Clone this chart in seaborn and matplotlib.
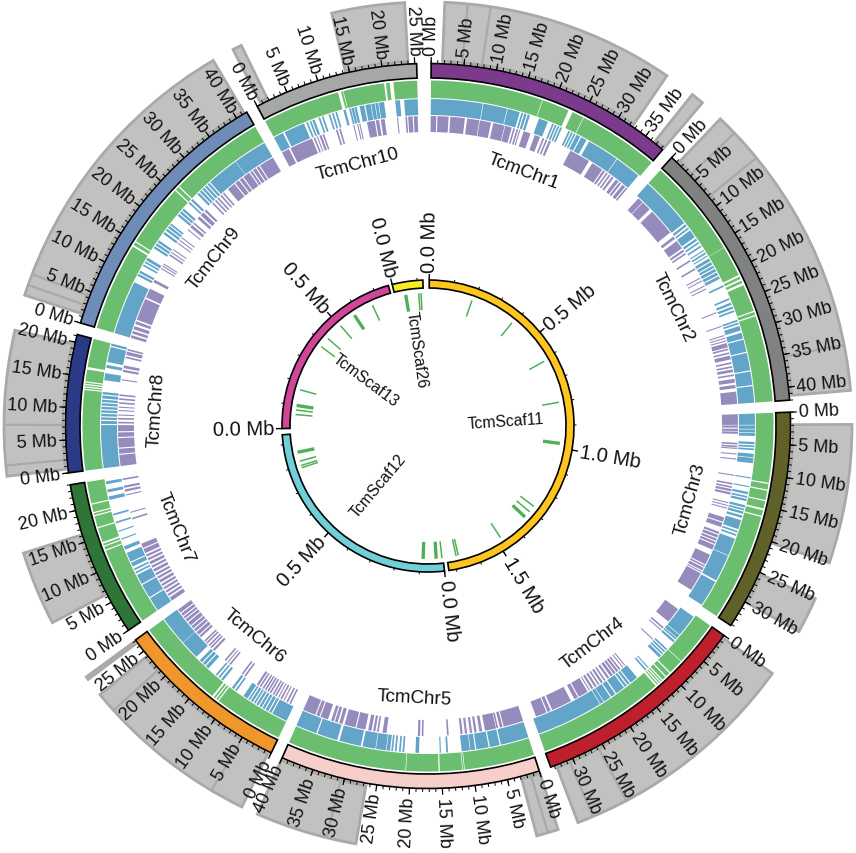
"""Circular genome map of the TcmChr chromosomes and scaffolds."""

import numpy as np
import pandas as pd
import matplotlib
matplotlib.use("Agg")
import matplotlib.pyplot as plt
import seaborn as sns

# chromosomes, lengths in Mb
chr_names = ["TcmChr1", "TcmChr2", "TcmChr3", "TcmChr4", "TcmChr5",
             "TcmChr6", "TcmChr7", "TcmChr8", "TcmChr9", "TcmChr10"]
chr_lengths = [38.3, 42.0, 34.2, 33.6, 40.0, 27.1, 24.0, 21.2, 41.8, 25.3]
chr_colors = ["#7b3a8c", "#808282", "#5f6129", "#bd1f2d", "#f6cfca",
              "#ef962c", "#2f7538", "#2b3a86", "#6f8cb9", "#a6a8a8"]

# scaffolds, lengths in Mb
scaf_names = ["TcmScaf11", "TcmScaf12", "TcmScaf13", "TcmScaf26"]
scaf_lengths = [1.73, 0.94, 0.76, 0.123]
scaf_colors = ["#fdc51e", "#6fd0d8", "#d0479a", "#f8ec25"]

# grey highlight ranges behind the tick labels (Mb)
chr1_grey = [(1.7, 32.5), (36.6, 38.3)]
chr2_grey = [(1.3, 41.3)]
chr3_grey = [(1.9, 20.2), (25.2, 30.0)]
chr4_grey = [(0.4, 32.7)]
chr5_grey = [(0.0, 2.9), (26.6, 40.0)]
chr6_grey = [(0.4, 24.1), (26.6, 27.0)]
chr7_grey = [(6.4, 16.2)]
chr8_grey = [(0.6, 19.7)]
chr9_grey = [(1.4, 41.4)]
chr10_grey = [(0.7, 1.9), (14.4, 24.0)]

# darker lines inside the grey ranges (Mb)
chr1_lines = [4.7, 7.7]
chr2_lines = [3.9, 8.2, 35.3]
chr3_lines = []
chr4_lines = [25.8, 30.6]
chr5_lines = [1.4, 30.5]
chr6_lines = [4.9, 21.4]
chr7_lines = []
chr8_lines = [2.0, 7.3]
chr9_lines = [2.8, 4.3]
chr10_lines = []

# green track
chr1_green = [(0, 18.1), (18.2, 22.6), (23.3, 25.2), (25.3, 38.3)]
chr2_green = [(0, 16), (16.05, 21), (21.3, 21.7), (22, 22.4), (22.8, 27.2), (27.4, 27.9), (28.1, 42)]
chr3_green = [(0, 11.2), (11.4, 12.3), (12.5, 14), (14.2, 15.4), (15.7, 16.6), (16.8, 34.2)]
chr4_green = [(0, 7.3), (7.4, 9.8), (10, 10.7), (10.9, 11.5), (11.7, 11.9), (12.1, 12.3), (12.5, 12.7), (13, 33.6)]
chr5_green = [(0, 11.3), (11.4, 11.6), (11.7, 15.3), (15.5, 20.7), (20.8, 40)]
chr6_green = [(0, 11.2), (11.4, 11.7), (11.9, 12.2), (12.5, 27.1)]
chr7_green = [(0, 12.6), (12.8, 13.3), (13.5, 13.8), (14.1, 16.4), (16.6, 18.4), (18.6, 18.9), (19.1, 20.3), (20.5, 24)]
chr8_green = [(0, 12.9), (13.1, 13.3), (13.5, 13.7), (13.9, 14.1), (14.3, 16.2), (16.6, 21.2)]
chr9_green = [(0, 14.2), (14.5, 15), (15.2, 25.4), (25.6, 26.2), (26.4, 41.8)]
chr10_green = [(0, 12.5), (13, 13.3), (13.4, 20), (20.3, 20.9), (21.5, 25.3)]

# blue track
chr1_blue = [(0, 8.8), (8.9, 13), (13.1, 15.2), (15.5, 15.8), (16, 16.4), (16.6, 17), (18.6, 20.2),
             (21, 21.3), (21.5, 21.8), (22, 22.3), (22.5, 22.8), (24, 24.3), (24.5, 24.8), (25, 25.3),
             (25.5, 26.2), (26.4, 27.4), (27.9, 33.4), (33.5, 38)]
chr2_blue = [(0, 9), (9.3, 9.7), (10, 10.3), (10.6, 12), (12.3, 12.7), (13, 13.3), (13.7, 14),
             (14.6, 14.8), (15.1, 15.4), (15.7, 15.9), (16.3, 16.8), (17, 17.5), (17.7, 18.1), (18.3, 18.8),
             (19, 19.5), (19.7, 20.2), (21.4, 21.7), (23.8, 24.1), (24.6, 25), (25.3, 25.7), (26, 26.3),
             (27.7, 28), (28.2, 28.5), (28.8, 29.6), (30, 31), (31.2, 33.3), (33.5, 36.5), (36.7, 39), (39.2, 42)]
chr3_blue = [(0, 1.9), (2, 2.6), (2.7, 3.2), (3.3, 3.8), (4.8, 5.2), (5.4, 5.7), (5.9, 6.2), (6.8, 7.4),
             (7.5, 8.4), (10.8, 11), (12.3, 12.5), (13.3, 13.7), (14, 14.3), (14.5, 14.9), (15.6, 16),
             (16.2, 16.5), (16.7, 17.1), (17.4, 17.8), (18.2, 19.8), (20.1, 20.4), (20.7, 21), (21.5, 24.5),
             (24.6, 29.2), (29.5, 34)]
chr4_blue = [(0.4, 4.2), (4.3, 4.9), (5, 5.3), (5.5, 5.9), (7.4, 7.7), (7.9, 8.2), (8.4, 8.7), (8.9, 9.4),
             (11.8, 12), (12.3, 12.6), (14.4, 15.8), (16, 16.4), (16.6, 17), (17.2, 18.8), (19, 19.8),
             (20, 21.3), (21.4, 22), (22.1, 33.6)]
chr5_blue = [(0, 4.8), (5, 6.7), (6.9, 9), (9.2, 10), (10.1, 11.5), (13.8, 14.1), (15, 15.2), (18.7, 19.3),
             (21.2, 21.5), (21.8, 22.1), (22.5, 22.8), (23.1, 23.4), (23.6, 24.2), (24.3, 26), (26.1, 28.3),
             (28.6, 32.3), (32.7, 36.2), (36.4, 40)]
chr6_blue = [(0, 2.7), (2.9, 3.3), (3.5, 4), (4.2, 4.6), (4.8, 5.2), (5.4, 5.8), (6, 6.3), (6.5, 6.9),
             (7.1, 7.4), (7.6, 8.4), (9.8, 10.1), (10.4, 10.8), (12.7, 13.1), (13.4, 13.7), (14, 14.3),
             (15.9, 16.5), (16.7, 17.2), (17.4, 17.9), (18.7, 22), (22.05, 27.1)]
chr7_blue = [(0, 2.4), (2.6, 5), (5.2, 6.9), (7.2, 7.5), (7.8, 8.1), (8.5, 9.2), (9.4, 11), (11.6, 12.2),
             (13.4, 13.6), (14.8, 15), (16.3, 16.6), (17.7, 18), (20.4, 21), (21.7, 22.2), (23.1, 23.6)]
chr8_blue = [(0, 7.3), (7.5, 8), (8.2, 8.6), (8.8, 9.2), (9.4, 9.8), (10, 10.4), (10.6, 11), (11.2, 11.6),
             (11.8, 12.3), (12.5, 12.9), (14.9, 16.1), (17, 17.5), (18, 20.6), (20.8, 21.2)]
chr9_blue = [(0, 9.2), (10.4, 10.8), (11, 11.4), (12.3, 12.6), (12.9, 13.2), (13.4, 13.9), (15.8, 16.2),
             (16.4, 16.8), (17, 17.4), (18.7, 19.1), (19.4, 19.8), (20, 20.4), (20.6, 20.9), (22.6, 23),
             (23.2, 23.6), (23.8, 24.2), (25.4, 25.7), (26, 26.4), (27.5, 27.9), (28.1, 28.5), (28.7, 29.1),
             (29.3, 29.7), (29.9, 30.3), (30.5, 36), (36.05, 41.8)]
chr10_blue = [(0, 1.7), (2, 5.6), (6, 6.3), (6.6, 6.9), (7.1, 7.5), (8.2, 8.5), (8.8, 9.1), (10, 10.3),
              (10.6, 10.9), (11.2, 11.5), (12.6, 13), (13.6, 13.9), (14, 14.4), (14.5, 14.9), (15.4, 16.2),
              (16.4, 17.3), (17.4, 18), (18.1, 18.6), (18.7, 19.6), (21.5, 22.3), (23, 25.3)]

# purple track
chr1_purple = [(0, 1), (1.2, 3.2), (3.5, 6.1), (6.5, 8.7), (8.8, 10.8), (11.2, 13.3), (13.4, 14.6),
               (14.9, 15.2), (15.5, 15.8), (16, 16.2), (16.8, 18.1), (18.9, 19.9), (20.4, 20.7), (21, 21.3),
               (21.6, 22), (25.8, 29.6), (30.3, 32.4), (32.6, 33), (33.3, 33.6), (33.9, 34.2), (34.5, 34.9),
               (35.4, 36), (36.2, 36.6), (36.9, 37.5), (37.7, 38)]
chr2_purple = [(0.5, 1.5), (1.6, 3.3), (3.9, 8.8), (9.7, 10.2), (10.7, 12.3), (12.6, 13), (13.3, 13.6),
               (14.8, 15.1), (16.5, 16.8), (18.4, 18.6), (19, 19.2), (20, 20.2), (20.6, 20.8), (25.2, 25.4),
               (27.8, 28), (29.5, 29.7), (30, 30.2), (30.5, 30.7), (31, 31.8), (32, 32.3), (32.7, 33),
               (33.3, 34), (34.5, 34.8), (35.2, 35.5), (35.8, 36.3), (36.7, 37), (37.5, 38.2), (38.6, 39.2),
               (39.8, 42)]
chr3_purple = [(0, 1.9), (2, 2.4), (2.6, 3), (3.1, 3.5), (5.1, 5.4), (5.6, 5.9), (6, 6.2), (7, 7.2), (7.9, 8.1),
               (10.8, 11), (12.3, 12.6), (12.9, 13.2), (13.4, 13.8), (14, 14.4), (15.8, 16), (16.3, 16.5),
               (16.8, 17), (18.6, 19.4), (19.6, 20.4), (21.3, 21.7), (21.9, 22.4), (22.6, 23), (23.2, 23.6),
               (23.8, 24.7), (25.7, 27.6), (27.8, 28.1), (28.3, 28.8), (29, 29.2), (29.4, 32.8)]
chr4_purple = [(0.9, 3.7), (5, 5.3), (5.6, 5.8), (7.8, 8), (14.6, 14.8), (15.1, 15.3), (15.7, 16), (16.2, 16.6),
               (16.8, 17.2), (17.4, 17.9), (18.2, 18.6), (19, 19.3), (19.6, 20), (20.3, 20.6), (20.9, 21.3),
               (21.6, 22), (22.3, 22.5), (22.8, 24.6), (24.8, 25.5), (26.2, 29.9), (30.2, 30.8), (31, 33)]
chr5_purple = [(0, 3.6), (3.8, 4.3), (4.6, 4.9), (5, 7), (7.5, 8), (8.5, 8.9), (9.3, 9.7), (10.2, 10.6),
               (11, 11.4), (13.5, 13.8), (18, 18.3), (18.6, 19), (24.6, 25.3), (26, 26.3), (26.6, 27),
               (27.3, 27.9), (28.4, 30), (30.2, 32.2), (32.6, 33.2), (33.5, 34), (34.2, 34.7), (35.3, 36.7),
               (36.9, 37.5), (37.7, 40)]
chr6_purple = [(0.6, 0.9), (1.2, 1.5), (1.9, 2.1), (2.4, 2.7), (3, 3.2), (3.5, 3.8), (4, 4.3), (4.6, 4.9),
               (5.1, 5.4), (5.6, 5.9), (6.1, 6.4), (6.7, 7), (7.2, 7.6), (10, 10.3), (10.6, 10.9), (13.4, 13.7),
               (14, 14.2), (14.5, 14.8), (17.2, 17.6), (17.9, 18.2), (18.4, 18.7), (19, 19.3), (19.5, 19.8),
               (20.6, 21), (21.2, 21.8), (22, 22.5), (22.7, 23.2), (23.4, 24.1), (24.3, 24.8), (25, 25.4),
               (25.6, 26.1), (26.3, 27)]
chr7_purple = [(0, 0.7), (1, 1.4), (1.7, 2.1), (2.4, 2.8), (3.1, 3.5), (3.8, 4.3), (4.6, 5), (5.3, 5.7),
               (6, 6.5), (6.8, 7.2), (7.5, 8), (8.3, 8.7), (9, 9.4), (9.7, 10.5), (10.7, 11.5), (16.1, 16.4),
               (17.3, 17.5), (20.5, 20.7), (21.2, 21.6), (21.9, 22.3), (23.3, 23.6)]
chr8_purple = [(0, 2), (2.2, 3.1), (3.3, 5), (5.2, 6), (6.2, 7.3), (7.6, 7.9), (8.3, 8.6), (9, 9.2), (9.8, 10),
               (10.4, 10.6), (11.1, 11.4), (11.8, 12.1), (12.5, 12.8), (15.3, 15.5), (16.8, 17.2), (17.5, 18),
               (19.3, 19.6), (19.9, 20.5), (20.7, 21)]
chr9_purple = [(0, 0.5), (0.8, 1.3), (1.6, 2.2), (2.6, 3.1), (3.4, 7.4), (7.7, 9.4), (10.7, 11.2), (13.4, 13.6),
               (13.9, 14.1), (14.3, 14.5), (16.2, 16.5), (16.8, 17), (17.4, 17.6), (18.8, 19), (19.4, 19.6),
               (20, 20.2), (21.8, 22), (22.5, 23), (23.3, 23.6), (24.5, 25), (25.3, 26), (26.3, 26.7),
               (28.2, 28.5), (28.9, 29.2), (29.5, 29.8), (30.2, 30.5), (30.8, 31.1), (32, 33.5), (33.7, 34.5),
               (34.7, 35.3), (35.5, 36.8), (37, 37.4), (37.6, 38.2), (38.4, 38.9), (39.1, 41.8)]
chr10_purple = [(0, 1.4), (1.7, 5.9), (6.2, 6.5), (6.8, 7), (7.3, 7.7), (7.9, 8.2), (10.4, 10.7), (11, 11.3),
                (13.6, 13.8), (14.3, 14.5), (14.7, 14.9), (16.1, 17.5), (17.7, 18.3), (18.6, 19.3), (21.5, 21.7),
                (23, 23.3), (23.5, 24.3), (24.5, 25.2)]

# green marks on the scaffolds (Mb)
scaf11_thin = [0.19, 0.39, 0.61, 0.80, 1.28, 1.31, 1.48, 1.68, 1.69]
scaf11_thick = [0.98, 1.34]
scaf12_thin = [0.005, 0.79, 0.80, 0.82]
scaf12_thick = [0.03, 0.087, 0.86]
scaf13_thin = [0.06, 0.08, 0.17, 0.38, 0.426, 0.504, 0.67]
scaf13_thick = [0.10, 0.58]
scaf26_thin = [0.103, 0.113]
scaf26_thick = [0.046]

GREY_TRACKS = [chr1_grey, chr2_grey, chr3_grey, chr4_grey, chr5_grey, chr6_grey, chr7_grey, chr8_grey, chr9_grey, chr10_grey]
GREY_LINES = [chr1_lines, chr2_lines, chr3_lines, chr4_lines, chr5_lines, chr6_lines, chr7_lines, chr8_lines, chr9_lines, chr10_lines]
GREEN = [chr1_green, chr2_green, chr3_green, chr4_green, chr5_green, chr6_green, chr7_green, chr8_green, chr9_green, chr10_green]
BLUE = [chr1_blue, chr2_blue, chr3_blue, chr4_blue, chr5_blue, chr6_blue, chr7_blue, chr8_blue, chr9_blue, chr10_blue]
PURPLE = [chr1_purple, chr2_purple, chr3_purple, chr4_purple, chr5_purple, chr6_purple, chr7_purple, chr8_purple, chr9_purple, chr10_purple]
SCAF_THIN = [scaf11_thin, scaf12_thin, scaf13_thin, scaf26_thin]
SCAF_THICK = [scaf11_thick, scaf12_thick, scaf13_thick, scaf26_thick]

# layout
CHR_FIRST_DEG = 0.5
CHR_GAP_DEG = 1.9
CHR_DEG_PER_MB = 1.04
SCAF_START_DEG = [0.5, 173.5, 269.0, 345.8]
SCAF_DEG_PER_MB = 99.0

sns.set_theme(style="white")
plt.rcParams["font.family"] = ["Liberation Sans", "DejaVu Sans"]
TEXT = "#111111"


def arcs(ax, start_deg, scale, intervals, r_in, r_out, **kw):
    """Draw (start, end) Mb intervals as ring segments."""
    if not intervals:
        return
    iv = np.array(intervals, dtype=float)
    ax.bar(np.radians(start_deg + iv[:, 0] * scale),
           r_out - r_in,
           width=np.radians((iv[:, 1] - iv[:, 0]) * scale),
           bottom=r_in, align="edge", **kw)


def radial_marks(ax, angles_deg, r_in, r_out, color, lw):
    """Radial segments, one seaborn line unit per mark."""
    if len(angles_deg) == 0:
        return
    th = np.radians(np.asarray(angles_deg, dtype=float))
    n = len(th)
    df = pd.DataFrame({
        "theta": np.repeat(th, 2),
        "r": np.tile([r_in, r_out], n),
        "mark": np.repeat(np.arange(n), 2),
    })
    sns.lineplot(data=df, x="theta", y="r", units="mark", estimator=None, sort=False,
                 color=color, linewidth=lw, legend=False, ax=ax, solid_capstyle="butt")


def radial_label(ax, angle_deg, r, text, size):
    a = angle_deg % 360
    if a <= 180:
        rot, ha = 90 - a, "left"
    else:
        rot, ha = 270 - a, "right"
    ax.text(np.radians(a), r, text, rotation=rot, rotation_mode="anchor",
            ha=ha, va="center", fontsize=size, color=TEXT, zorder=8)


fig = plt.figure(figsize=(8.56, 8.54), dpi=100)
ax = fig.add_axes([0, 0, 1, 1], projection="polar")
ax.set_theta_zero_location("N")
ax.set_theta_direction(-1)

start = CHR_FIRST_DEG
for i, name in enumerate(chr_names):
    length = chr_lengths[i]

    arcs(ax, start, CHR_DEG_PER_MB, GREY_TRACKS[i], 365, 424,
         color="#c1c1c0", edgecolor="#a9aaa8", linewidth=2, zorder=1)
    radial_marks(ax, [start + m * CHR_DEG_PER_MB for m in GREY_LINES[i]], 365, 424, "#a9aaa8", 1.6)

    arcs(ax, start, CHR_DEG_PER_MB, GREEN[i], 328, 345.5, color="#6bbd6f", linewidth=0, zorder=2)
    arcs(ax, start, CHR_DEG_PER_MB, BLUE[i], 311, 327, color="#62a5c8", linewidth=0, zorder=2)
    arcs(ax, start, CHR_DEG_PER_MB, PURPLE[i], 294, 310, color="#968bbd", linewidth=0, zorder=2)

    arcs(ax, start, CHR_DEG_PER_MB, [(0, length)], 348, 362.5,
         color=chr_colors[i], edgecolor="black", linewidth=1.2, zorder=4)

    minor = np.arange(0, int(length) + 1)
    major = minor[minor % 5 == 0]
    radial_marks(ax, start + minor * CHR_DEG_PER_MB, 362.5, 366, "black", 0.7)
    radial_marks(ax, start + major * CHR_DEG_PER_MB, 362.5, 369, "black", 0.9)
    for m in major:
        radial_label(ax, start + m * CHR_DEG_PER_MB, 371, f"{m} Mb", 13)

    # sector name, tangential and upright
    mid = start + length * CHR_DEG_PER_MB / 2
    rot = 180 - mid if 90 < mid < 270 else -mid
    ax.text(np.radians(mid), 272, name, rotation=rot, rotation_mode="anchor",
            ha="center", va="center", fontsize=13.5, color=TEXT, zorder=8)

    start += length * CHR_DEG_PER_MB + CHR_GAP_DEG

for i, name in enumerate(scaf_names):
    s = SCAF_START_DEG[i]
    length = scaf_lengths[i]
    arcs(ax, s, SCAF_DEG_PER_MB, [(0, length)], 138, 146,
         color=scaf_colors[i], edgecolor="black", linewidth=1.2, zorder=4)

    minor = np.arange(0, length + 1e-6, 0.1)
    major = np.arange(0, length + 1e-6, 0.5)
    radial_marks(ax, s + minor * SCAF_DEG_PER_MB, 146, 148.5, "black", 0.7)
    radial_marks(ax, s + major * SCAF_DEG_PER_MB, 146, 152, "black", 1.0)
    for m in major:
        radial_label(ax, s + m * SCAF_DEG_PER_MB, 154, f"{m:.1f} Mb", 14.5)

    radial_marks(ax, s + np.array(SCAF_THIN[i]) * SCAF_DEG_PER_MB, 116, 133, "#4fb058", 1.1)
    radial_marks(ax, s + np.array(SCAF_THICK[i]) * SCAF_DEG_PER_MB, 116, 133, "#4fb058", 2.4)

    mid = s + length * SCAF_DEG_PER_MB / 2
    rot = 90 - mid if mid <= 180 else 270 - mid
    ax.text(np.radians(mid), 78, name, rotation=rot, rotation_mode="anchor",
            ha="center", va="center", fontsize=11.3, color=TEXT, zorder=8)

ax.set_rlim(0, 427)
ax.set_rorigin(0)
ax.axis("off")
fig.savefig("out.png", dpi=100, facecolor="white")
